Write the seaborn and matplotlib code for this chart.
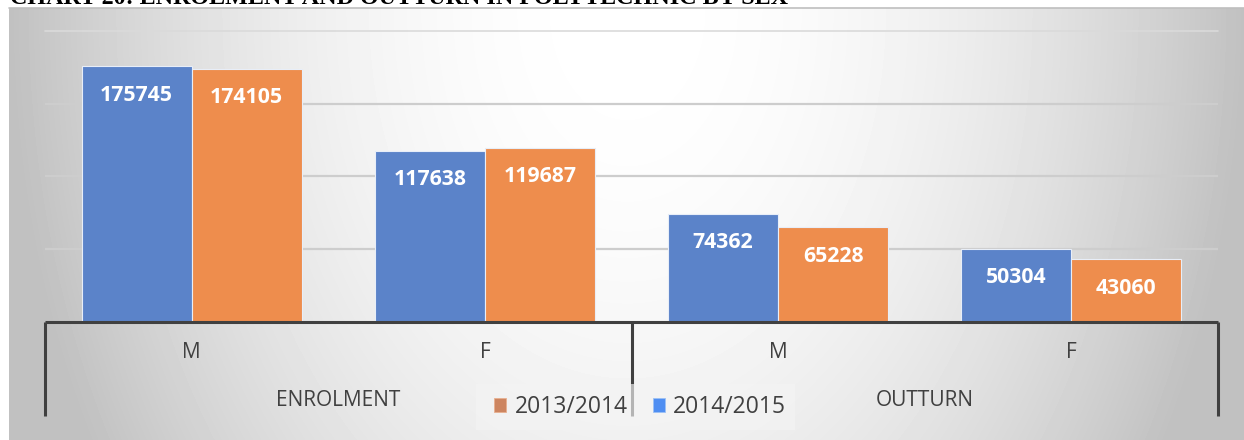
import numpy as np
import pandas as pd
import seaborn as sns
import matplotlib
matplotlib.use("Agg")
import matplotlib.pyplot as plt
from matplotlib.patches import Patch, Rectangle
from matplotlib.lines import Line2D

# ---------------- data ----------------
groups = ["ENROLMENT", "OUTTURN"]
sexes = ["M", "F", "M", "F"]
categories = ["ENROLMENT M", "ENROLMENT F", "OUTTURN M", "OUTTURN F"]
years = ["2014/2015", "2013/2014"]
v_2014_2015 = [175745, 117638, 74362, 50304]
v_2013_2014 = [174105, 119687, 65228, 43060]
title = "CHART 20: ENROLMENT AND OUTTURN IN POLYTECHNIC BY SEX"

df = pd.DataFrame({
    "cat": categories * 2,
    "year": [years[0]] * 4 + [years[1]] * 4,
    "value": v_2014_2015 + v_2013_2014,
})

sns.set_theme(style="white")
plt.rcParams["font.family"] = ["Open Sans", "DejaVu Sans"]

W, H = 1244, 440
fig = plt.figure(figsize=(W / 100, H / 100), dpi=100)
fig.patch.set_facecolor("white")

# ---------------- gradient background (chart area) ----------------
x0, ytop = 9, 8
bg = fig.add_axes([x0 / W, 0, 1 - x0 / W, (H - ytop) / H], zorder=-5)
bw, bh = W - x0, H - ytop
xx, yy = np.meshgrid(np.arange(bw), np.arange(bh))
t = np.sqrt(((xx - 618) / 615.0) ** 2 + (yy / 880.0) ** 2)
t = np.clip(t, 0, 1)
val = (255 - 62 * t ** 2) / 255.0
bg.imshow(val, cmap="gray", vmin=0, vmax=1, aspect="auto", interpolation="bilinear")
bg.set_axis_off()
fig.add_artist(Line2D([x0 / W, 1], [1 - ytop / H, 1 - ytop / H], color="#bfbfbf", lw=1.2))

# ---------------- main axes ----------------
left, right, base, top = 45, 1218, 322, 31
ax = fig.add_axes([left / W, (H - base) / H, (right - left) / W, (base - top) / H])
ax.patch.set_alpha(0)

colors = {"2014/2015": "#5b83c9", "2013/2014": "#ee8d4d"}
sns.barplot(data=df, x="cat", y="value", hue="year", hue_order=years, order=categories,
            palette=colors, width=0.75, ax=ax, legend=False, saturation=1,
            edgecolor="#e8eef8", linewidth=0.8, zorder=3)

ax.set_xlim(-0.5, 3.5)
ax.set_ylim(0, 200000)
ax.set_xlabel("")
ax.set_ylabel("")
ax.set_xticks([])
ax.set_yticks([])
for s in ax.spines.values():
    s.set_visible(False)

for g in [50000, 100000, 150000]:
    ax.axhline(g, color="#cdcdcd", lw=1.6, zorder=1)
ax.axhline(200000, color="#dadada", lw=1.2, zorder=1, clip_on=False)

# value labels inside bars
for cont in ax.containers:
    for rect, v in zip(cont, cont.datavalues):
        ax.annotate(f"{int(v)}", (rect.get_x() + rect.get_width() / 2, rect.get_height()),
                    xytext=(0, -29), textcoords="offset pixels", ha="center", va="center",
                    color="white", fontsize=15.3, fontweight="bold", zorder=6)

# category axis
dark = "#404040"
ax.plot([-0.5, 3.5], [0, 0], color=dark, lw=2.2, clip_on=False, zorder=6,
        transform=ax.get_xaxis_transform(), solid_capstyle="butt")
ylow = (base - 416) / (base - top)
for xv in [-0.5, 1.5, 3.5]:
    ax.plot([xv, xv], [0, ylow], color=dark, lw=2.2, clip_on=False, zorder=6,
            transform=ax.get_xaxis_transform(), solid_capstyle="butt")

y_sex = (base - 352) / (base - top)
y_grp = (base - 400) / (base - top)
for i, s in enumerate(sexes):
    ax.text(i, y_sex, s, transform=ax.get_xaxis_transform(), ha="center", va="center",
            fontsize=15, color=dark)
for j, g in enumerate(groups):
    ax.text(2 * j + 0.5, y_grp, g, transform=ax.get_xaxis_transform(), ha="center",
            va="center", fontsize=15, color=dark)

# legend box + legend
fig.add_artist(Rectangle((476 / W, 1 - 430 / H), (795 - 476) / W, 46 / H,
                         transform=fig.transFigure, facecolor="#f4f4f4", alpha=0.65,
                         edgecolor="none", zorder=1))
handles = [Patch(facecolor="#cd8560", edgecolor="#e8b090", lw=0.6),
           Patch(facecolor="#4f8ef2", edgecolor="#9cc0f5", lw=0.6)]
leg = fig.legend(handles, ["2013/2014", "2014/2015"], loc="center",
                 bbox_to_anchor=(640 / W, 1 - 407 / H), ncol=2, frameon=False,
                 fontsize=16.5, handlelength=0.55, handleheight=0.55,
                 handletextpad=0.35, columnspacing=1.1, labelcolor=dark)
leg.set_zorder(5)

# title (cut at top, as in the reference)
fig.text(10 / W, 1 - 3.5 / H, title, family="Liberation Serif", fontweight="bold",
         fontsize=17.4, color="black", va="baseline", ha="left")

fig.savefig("out.png", dpi=100)
